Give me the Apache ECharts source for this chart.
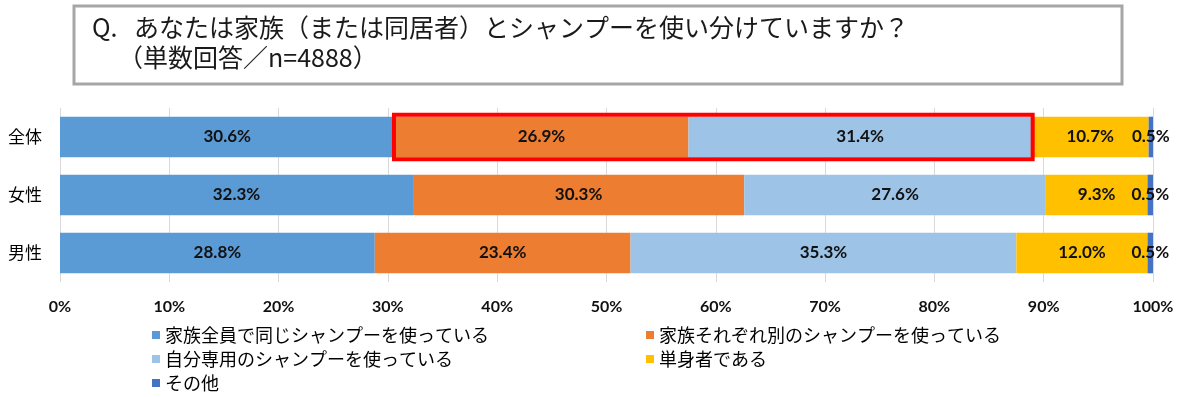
<!DOCTYPE html>
<html>
<head>
<meta charset="utf-8">
<title>シャンプーの使い分け</title>
<script src="https://cdn.jsdelivr.net/npm/echarts@6/dist/echarts.min.js"></script>
<style>
html, body { margin: 0; padding: 0; background: #fff; }
#main { width: 1190px; height: 397px; }
</style>
</head>
<body>
<div id="main"></div>
<script>
// 設問
var questionMark = 'Q.';
var questionText = 'あなたは家族（または同居者）とシャンプーを使い分けていますか？';
var questionNote = '（単数回答／n=4888）';

// カテゴリ（上から）
var categories = ['全体', '女性', '男性'];

// 凡例名
var seriesNames = [
	'家族全員で同じシャンプーを使っている',
	'家族それぞれ別のシャンプーを使っている',
	'自分専用のシャンプーを使っている',
	'単身者である',
	'その他'
];

// 値（%）
var allSame = [30.6, 32.3, 28.8];
var eachOwn = [26.9, 30.3, 23.4];
var selfOnly = [31.4, 27.6, 35.3];
var single = [10.7, 9.3, 12.0];
var other = [0.5, 0.5, 0.5];

// 赤枠で囲む系列（全体の「別」+「自分専用」）
var highlightRow = 0;
var highlightFrom = [allSame];
var highlightTo = [allSame, eachOwn, selfOnly];

var colors = ['#5B9BD5', '#ED7D31', '#9DC3E6', '#FFC000', '#4472C4'];

(function() {
	'use strict';

	var values = [allSame, eachOwn, selfOnly, single, other];
	var chart = echarts.init(document.getElementById('main'));

	var series = values.map(function(v, i) {
		return {
			name: seriesNames[i],
			type: 'bar',
			stack: 'total',
			barCategoryGap: '30%',
			data: v,
			itemStyle: { color: colors[i] },
			label: {
				show: true,
				position: 'inside',
				color: '#111',
				fontFamily: 'Lato',
				fontWeight: 'bold',
				fontSize: 17,
				formatter: function(p) {
					return p.value.toFixed(1) + '%';
				}
			}
		};
	});

	// 凡例は2列×3行
	var legendPos = [[152, 326], [646, 326], [152, 350], [646, 350], [152, 374]];
	var legends = seriesNames.map(function(name, i) {
		return {
			data: [name],
			left: legendPos[i][0],
			top: legendPos[i][1],
			padding: 0,
			icon: 'rect',
			itemWidth: 8,
			itemHeight: 8,
			selectedMode: false,
			textStyle: {
				fontFamily: 'Noto Sans CJK JP',
				fontSize: 18,
				color: '#000'
			}
		};
	});

	var option = {
		animation: false,
		backgroundColor: '#fff',
		legend: legends,
		grid: { left: 60, right: 37, top: 108, bottom: 115 },
		xAxis: {
			type: 'value',
			min: 0,
			max: 100,
			interval: 10,
			axisLine: { show: false },
			axisTick: { show: false },
			splitLine: { lineStyle: { color: '#D9D9D9', width: 1 } },
			axisLabel: {
				margin: 17,
				color: '#111',
				fontFamily: 'Lato',
				fontWeight: 'bold',
				fontSize: 16,
				formatter: '{value}%'
			}
		},
		yAxis: {
			type: 'category',
			inverse: true,
			data: categories,
			axisLine: { show: false },
			axisTick: { show: false },
			axisLabel: {
				margin: 18,
				color: '#000',
				fontFamily: 'Noto Sans CJK JP',
				fontSize: 17
			}
		},
		series: series,
		graphic: [
			{
				type: 'rect',
				shape: { x: 74, y: 6, width: 1048, height: 78 },
				style: { fill: '#fff', stroke: '#A6A6A6', lineWidth: 3 }
			},
			{
				type: 'text',
				left: 92,
				top: 15,
				style: { text: questionMark, fontFamily: 'Noto Sans CJK JP', fontSize: 25, fill: '#1a1a1a' }
			},
			{
				type: 'text',
				left: 134,
				top: 15,
				style: { text: questionText, fontFamily: 'Noto Sans CJK JP', fontSize: 25, fill: '#1a1a1a' }
			},
			{
				type: 'text',
				left: 118,
				top: 45,
				style: { text: questionNote, fontFamily: 'Noto Sans CJK JP', fontSize: 25, fill: '#1a1a1a' }
			}
		]
	};

	chart.setOption(option);

	// 赤枠：軸の座標から位置を求める
	var sum = function(list) {
		return list.reduce(function(a, arr) { return a + arr[highlightRow]; }, 0);
	};
	var p0 = chart.convertToPixel({ gridIndex: 0 }, [sum(highlightFrom), highlightRow]);
	var p1 = chart.convertToPixel({ gridIndex: 0 }, [sum(highlightTo), highlightRow]);
	var pNext = chart.convertToPixel({ gridIndex: 0 }, [0, highlightRow + 1]);
	var band = Math.abs(pNext[1] - p0[1]);
	var half = band * 0.35 + 2;

	chart.setOption({
		graphic: option.graphic.concat([{
			type: 'rect',
			z: 100,
			shape: { x: p0[0] - 0.5, y: p0[1] - half, width: p1[0] - p0[0] + 1.5, height: half * 2 },
			style: { fill: 'none', stroke: '#FF0000', lineWidth: 4 }
		}])
	});
}());
</script>
</body>
</html>
